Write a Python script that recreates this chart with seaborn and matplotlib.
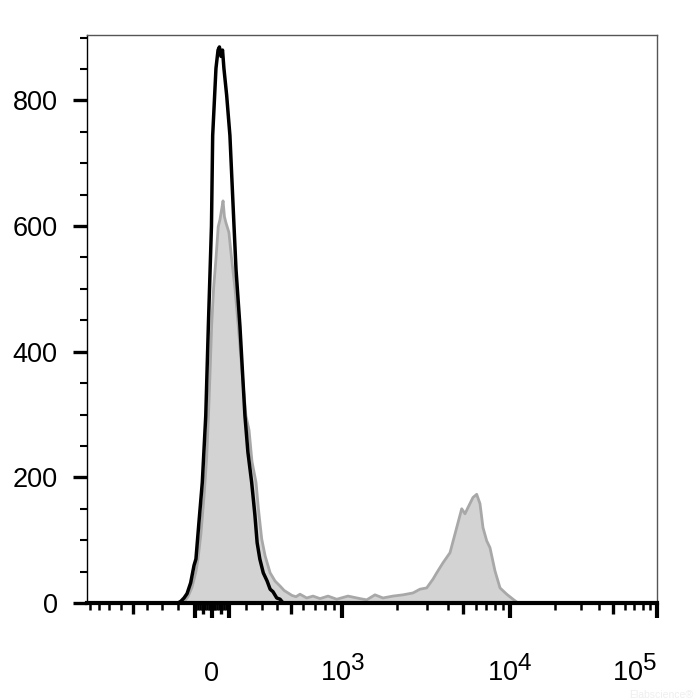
import numpy as np
import pandas as pd
import matplotlib
matplotlib.use("Agg")
import matplotlib.pyplot as plt
import seaborn as sns

try:
    import matplotlib._mathtext as _mt
    _mt.SHRINK_FACTOR = 0.9
except Exception:
    pass

# ---------------- data (fluorescence value, event count) ----------------
black_x = [-930, -199, -181, -163, -145, -124, -104, -93, -75, -56, -36, -21, -3, 4,
           23, 35, 43, 52, 61, 69, 85, 104, 128, 140, 163, 193, 211, 234, 254, 268,
           285, 307, 332, 352, 371, 397, 420, 442, 100000]
black_counts = [0, 0, 3, 8, 15, 32, 60, 70, 130, 192, 298, 441, 600, 744,
                851, 880, 885, 870, 880, 851, 808, 744, 600, 530, 441, 298, 240, 192, 140, 96,
                70, 48, 35, 22, 18, 8, 6, 0, 0]

gray_x = [-175, -157, -140, -116, -93, -81, -64, -46, -31, -20, -12, -2, 9, 23, 36, 46,
          55, 64, 72, 81, 98, 114, 134, 153, 175, 199, 218, 236, 261, 276, 297, 319,
          352, 385, 420, 449, 478, 508, 539, 571, 628, 684, 751, 833, 931, 1074, 1249,
          1359, 1510, 1673, 1904, 2173, 2482, 2728, 2989, 3261, 3433, 3748, 4138, 4553,
          4892, 5131, 5359, 5764, 6085, 6387, 6676, 7051, 7406, 7980, 8603, 9514, 10470,
          11290]
gray_counts = [0, 4, 10, 25, 50, 70, 110, 170, 230, 300, 360, 441, 500, 548, 599, 610,
               625, 640, 615, 605, 590, 548, 500, 441, 370, 298, 275, 225, 192, 150, 102, 75,
               48, 35, 27, 20, 16, 12, 10, 14, 8, 11, 7, 11, 6, 11, 7,
               5, 13, 8, 11, 13, 16, 22, 24, 38, 48, 64, 80, 120,
               150, 142, 152, 168, 173, 158, 120, 99, 88, 51, 24, 14, 6,
               0]

y_major = [0, 200, 400, 600, 800]
y_minor = [50, 100, 150, 250, 300, 350, 450, 500, 550, 650, 700, 750, 850, 900]

x_label_ticks = [0, 1000, 10000, 100000]
x_labels = ['0', r'$\mathregular{10^{3}}$', r'$\mathregular{10^{4}}$', r'$\mathregular{10^{5}}$']
x_long = [-100, 100]
x_medium = [-500, -50, 50, 500, 5000, 50000]
x_minor = [-900, -800, -700, -600, -400, -300, -200,
           -90, -80, -70, -60, -40, -30, -20, -10, 10, 20, 30, 40, 60, 70, 80, 90,
           200, 300, 400, 600, 700, 800, 900,
           2000, 3000, 4000, 6000, 7000, 8000, 9000,
           20000, 30000, 40000, 60000, 70000, 80000, 90000]

# ---------------- biexponential (logicle-like) axis scale ----------------
B_SCALE = 76.2
P_W = 3.7


def _f(u):
    a = np.abs(u)
    return np.sign(u) * B_SCALE * (np.exp(a) - P_W ** 2 * np.exp(-a / P_W) + P_W ** 2 - 1)


_ugrid = np.linspace(-5, 9, 60001)
_vgrid = _f(_ugrid)


def fwd(x):
    return np.interp(np.asarray(x, dtype=float), _vgrid, _ugrid)


def inv(u):
    return np.interp(np.asarray(u, dtype=float), _ugrid, _vgrid)


# ---------------- plotting ----------------
sns.set_theme(style="ticks")
plt.rcParams['font.family'] = ['Liberation Sans Narrow', 'Liberation Sans', 'DejaVu Sans']

fig = plt.figure(figsize=(7, 7), dpi=100)
ax = fig.add_axes([87 / 700, 1 - 603 / 700, 570 / 700, 568 / 700])
ax.set_xscale('function', functions=(fwd, inv))

gray_df = pd.DataFrame({'x': gray_x, 'count': gray_counts})
black_df = pd.DataFrame({'x': black_x, 'count': black_counts})

ax.fill_between(gray_df['x'], 0, gray_df['count'], color='#d3d3d3', lw=0, zorder=1)
sns.lineplot(data=gray_df, x='x', y='count', color='#a8a8a8', lw=2.0,
             estimator=None, sort=False, ax=ax, zorder=2)
sns.lineplot(data=black_df, x='x', y='count', color='black', lw=2.5,
             estimator=None, sort=False, ax=ax, zorder=3)

ax.set_xlim(-934, 100600)
ax.set_ylim(0, 904)
ax.set_xlabel('')
ax.set_ylabel('')

# spines
for side in ['top', 'right']:
    ax.spines[side].set_color('#555555')
    ax.spines[side].set_linewidth(1.0)
ax.spines['left'].set_color('black')
ax.spines['left'].set_linewidth(1.0)
ax.spines['bottom'].set_color('black')
ax.spines['bottom'].set_linewidth(3.0)
ax.spines['bottom'].set_zorder(5)

# y ticks
ax.set_yticks(y_major)
ax.set_yticks(y_minor, minor=True)
ax.set_yticklabels([str(v) for v in y_major])
ax.tick_params(axis='y', which='major', direction='out', length=10, width=2.4,
               pad=11, labelsize=19.5, color='black', labelcolor='black')
ax.tick_params(axis='y', which='minor', direction='out', length=5, width=1.5, color='black')

# x ticks
minor_all = sorted(x_long + x_medium + x_minor)
ax.set_xticks(x_label_ticks)
ax.set_xticklabels(x_labels)
ax.set_xticks(minor_all, minor=True)
ax.tick_params(axis='x', which='major', direction='out', length=11, width=3.0,
               pad=45, labelsize=19.5, color='black', labelcolor='black')
ax.tick_params(axis='x', which='minor', direction='out', length=5, width=1.8, color='black')

for t, loc in zip(ax.xaxis.get_minor_ticks(len(minor_all)), minor_all):
    if loc in x_long:
        t.tick1line.set_markersize(11)
        t.tick1line.set_markeredgewidth(3.0)
    elif loc in x_medium:
        t.tick1line.set_markersize(8)
        t.tick1line.set_markeredgewidth(2.4)

labs = ax.get_xticklabels()
for lab in labs:
    lab.set_verticalalignment('baseline')
labs[-1].set_horizontalalignment('right')

fig.text(0.99, 0.0, 'Elabscience\u00ae', fontsize=7.5, color='#efefef',
         ha='right', va='bottom', family=['Liberation Sans', 'DejaVu Sans'])

fig.savefig('out.png', dpi=100, facecolor='white')
